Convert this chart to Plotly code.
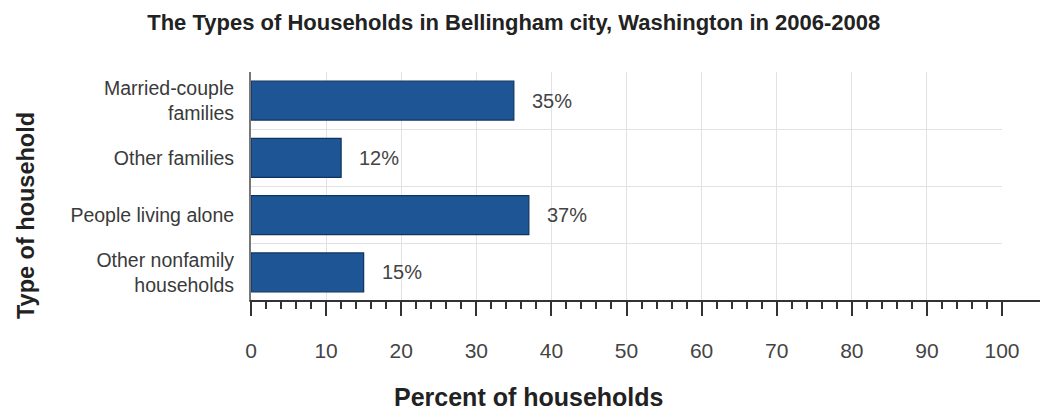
import plotly.graph_objects as go

# Household types, top to bottom, and their share of all households (%)
categories = ["Married-couple<br>families", "Other families", "People living alone", "Other nonfamily<br>households"]
percentages = [35, 12, 37, 15]
x_ticks = [0, 10, 20, 30, 40, 50, 60, 70, 80, 90, 100]

positions = list(range(len(categories)))
FONT = "Liberation Sans, Arial, sans-serif"

fig = go.Figure()
fig.add_trace(go.Bar(
    x=percentages,
    y=positions,
    orientation="h",
    width=0.68,
    marker=dict(color="#1d5595", line=dict(color="#0f3462", width=1.2)),
    hoverinfo="skip",
))

# value labels to the right of each bar
for pos, val in zip(positions, percentages):
    fig.add_annotation(
        x=val, y=pos, xref="x", yref="y",
        text=f"{val}%", showarrow=False,
        xanchor="left", yanchor="middle", xshift=16,
        font=dict(family=FONT, size=20, color="#444444"),
    )

fig.update_layout(
    width=1040, height=410,
    margin=dict(l=251, r=38, t=72, b=109),
    paper_bgcolor="white", plot_bgcolor="white",
    showlegend=False,
    title=dict(
        text="<b>The Types of Households in Bellingham city, Washington in 2006-2008</b>",
        x=0.494, xanchor="center", xref="container",
        y=1 - 22 / 410, yanchor="middle", yref="container",
        font=dict(family=FONT, size=22, color="#222222"),
    ),
    xaxis=dict(
        range=[0, 100],
        tickmode="array", tickvals=x_ticks, ticktext=[str(t) for t in x_ticks],
        ticks="outside", ticklen=14, tickwidth=2, tickcolor="#333333",
        showgrid=True, gridcolor="#e2e2e2", gridwidth=1,
        showline=False, zeroline=False,
        tickfont=dict(family=FONT, size=21, color="#444444"),
        ticklabelstandoff=17,
        minor=dict(dtick=2, tick0=0, ticks="outside", ticklen=7, tickwidth=1.5,
                   tickcolor="#333333", showgrid=False),
        fixedrange=True,
    ),
    yaxis=dict(
        range=[3.5, -0.5],
        tickmode="array", tickvals=positions, ticktext=categories,
        ticks="", showgrid=False, zeroline=False,
        showline=True, linecolor="#777777", linewidth=2,
        tickfont=dict(family=FONT, size=19.5, color="#3a3a3a"),
        ticklabelstandoff=11,
        minor=dict(tickmode="array", tickvals=[-0.5, 0.5, 1.5, 2.5], ticks="",
                   showgrid=True, gridcolor="#e2e2e2", gridwidth=1),
        fixedrange=True,
    ),
    annotations=list(fig.layout.annotations) + [
        dict(text="<b>Percent of households</b>", xref="paper", yref="paper",
             x=0.370, y=-0.419, showarrow=False, xanchor="center", yanchor="middle",
             font=dict(family=FONT, size=25, color="#222222")),
        dict(text="<b>Type of household</b>", xref="paper", yref="paper",
             x=-0.2996, y=0.371, showarrow=False, textangle=-90,
             xanchor="center", yanchor="middle",
             font=dict(family=FONT, size=23.5, color="#222222")),
    ],
    shapes=[
        # x axis baseline running to the right edge
        dict(type="line", xref="paper", yref="paper", x0=-0.002, x1=(1040 - 251) / 751,
             y0=0, y1=0, line=dict(color="#333333", width=2), layer="above"),
    ],
)

fig.write_html("out.html")
